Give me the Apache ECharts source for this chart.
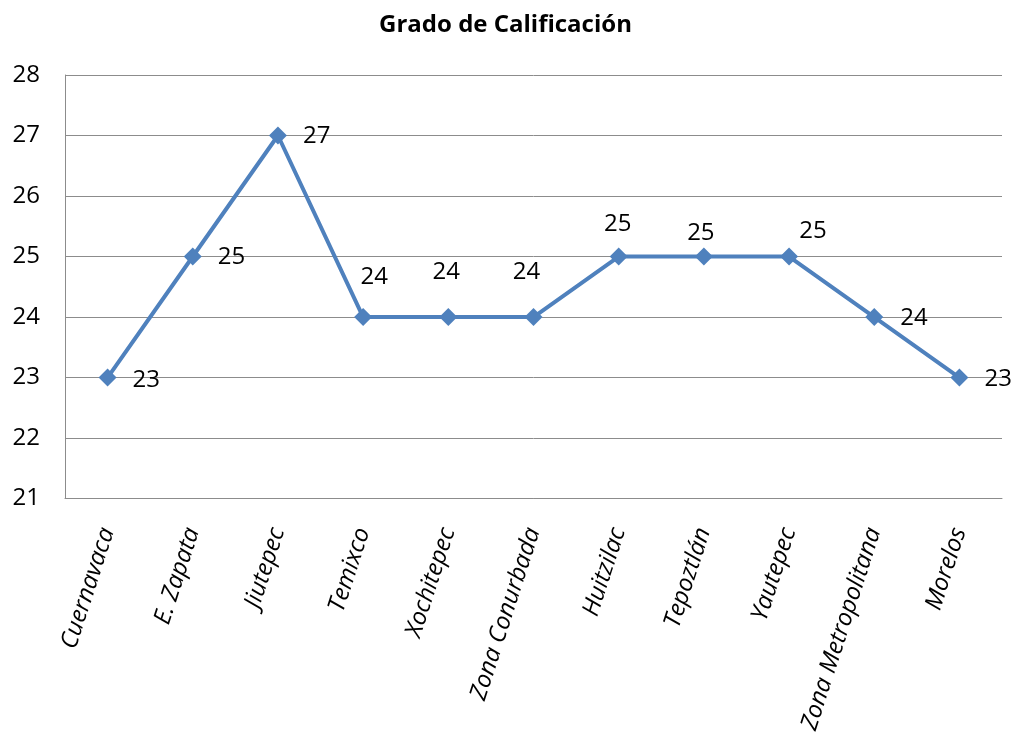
<!DOCTYPE html>
<html>
<head>
<meta charset="utf-8">
<script src="https://cdn.jsdelivr.net/npm/echarts@6/dist/echarts.min.js"></script>
<style>
  html, body { margin: 0; padding: 0; background: #fff; }
  #main { width: 1011px; height: 736px; }
</style>
</head>
<body>
<div id="main"></div>
<script>
// datos
var municipios = ['Cuernavaca', 'E. Zapata', 'Jiutepec', 'Temixco', 'Xochitepec', 'Zona Conurbada',
    'Huitzilac', 'Tepoztlán', 'Yautepec', 'Zona Metropolitana', 'Morelos'];
var calificacion = [23, 25, 27, 24, 24, 24, 25, 25, 25, 24, 23];
var yTicks = [21, 22, 23, 24, 25, 26, 27, 28];

// donde va cada etiqueta de valor (solo estilo)
var etiquetas = [
    { position: 'right', distance: 16, offset: [0, 3] },
    { position: 'right', distance: 16, offset: [0, 1] },
    { position: 'right', distance: 16, offset: [0, 1] },
    { position: 'top', distance: 19, offset: [11, 0] },
    { position: 'top', distance: 24, offset: [-2, 0] },
    { position: 'top', distance: 24, offset: [-7, 0] },
    { position: 'top', distance: 11, offset: [-1, 0] },
    { position: 'top', distance: 2, offset: [-3, 0] },
    { position: 'top', distance: 4, offset: [24, 0] },
    { position: 'right', distance: 17, offset: [0, 1] },
    { position: 'right', distance: 16, offset: [0, 2] }
];

var chart = echarts.init(document.getElementById('main'));

var option = {
    animation: false,
    textStyle: { fontFamily: 'Open Sans' },
    title: {
        text: 'Grado de Calificación',
        left: 'center',
        top: 8,
        textStyle: { fontSize: 24, fontWeight: 'bold', color: '#000', fontFamily: 'Open Sans' }
    },
    grid: { left: 65, right: 9, top: 75, bottom: 237, containLabel: false },
    xAxis: {
        type: 'category',
        data: municipios,
        boundaryGap: true,
        axisLine: { lineStyle: { color: '#8c8c8c', width: 1 } },
        axisTick: { show: false },
        axisLabel: {
            rotate: 72,
            margin: 30,
            interval: 0,
            fontSize: 24,
            fontStyle: 'italic',
            color: '#000'
        }
    },
    yAxis: {
        type: 'value',
        min: yTicks[0],
        max: yTicks[yTicks.length - 1],
        interval: 1,
        axisLine: { show: true, lineStyle: { color: '#8c8c8c', width: 1 } },
        axisTick: { show: false },
        splitLine: { lineStyle: { color: '#8c8c8c', width: 1 } },
        axisLabel: { fontSize: 24, color: '#000', margin: 25 }
    },
    series: [
        {
            type: 'line',
            data: calificacion.map(function (v, i) {
                return { value: v, label: etiquetas[i] };
            }),
            symbol: 'diamond',
            symbolSize: 18,
            lineStyle: { color: '#4F81BD', width: 4 },
            itemStyle: { color: '#4F81BD' },
            label: { show: true, fontSize: 24, color: '#000' }
        }
    ]
};

chart.setOption(option);
</script>
</body>
</html>
